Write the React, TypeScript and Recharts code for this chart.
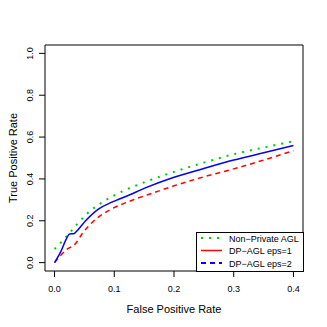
import React from 'react';
import { LineChart, Line, XAxis, YAxis, ReferenceArea } from 'recharts';

// ROC curves
const nonPrivateFpr = [0, 0.016, 0.024, 0.039, 0.054, 0.082, 0.113, 0.143, 0.196, 0.25, 0.3, 0.35, 0.4];
const nonPrivateTpr = [0.065, 0.113, 0.138, 0.188, 0.233, 0.292, 0.34, 0.376, 0.43, 0.478, 0.518, 0.55, 0.58];

const eps2Fpr = [0, 0.01, 0.02, 0.025, 0.032, 0.04, 0.052, 0.074, 0.096, 0.124, 0.152, 0.2, 0.25, 0.3, 0.35, 0.4];
const eps2Tpr = [0, 0.05, 0.115, 0.137, 0.138, 0.16, 0.2, 0.257, 0.289, 0.322, 0.357, 0.408, 0.45, 0.49, 0.525, 0.56];

const eps1Fpr = [0, 0.02, 0.035, 0.046, 0.066, 0.096, 0.129, 0.168, 0.2, 0.25, 0.3, 0.35, 0.4];
const eps1Tpr = [0, 0.062, 0.09, 0.137, 0.2, 0.257, 0.297, 0.336, 0.367, 0.41, 0.448, 0.49, 0.535];

const xTicks = [0, 0.1, 0.2, 0.3, 0.4];
const yTicks = [0, 0.2, 0.4, 0.6, 0.8, 1.0];

const legendItems = [
  { label: 'Non\u2212Private AGL', color: '#00CD00', dash: '2 6', width: 2 },
  { label: 'DP\u2212AGL eps=1', color: '#FF0000', dash: undefined, width: 1.5 },
  { label: 'DP\u2212AGL eps=2', color: '#0000FF', dash: '5 4', width: 2 },
];

const zip = (xs: number[], ys: number[]) => xs.map((x, i) => ({ x, y: ys[i] }));

const FONT = 'Liberation Sans, Arial, sans-serif';

const XTick = (props: any) => (
  <text x={props.x} y={292} textAnchor="middle" fontSize={9} fontFamily={FONT} fill="#000">
    {props.payload.value.toFixed(1)}
  </text>
);

const YTick = (props: any) => (
  <text
    x={33.5}
    y={props.y}
    transform={`rotate(-90, 33.5, ${props.y})`}
    textAnchor="middle"
    fontSize={9}
    fontFamily={FONT}
    fill="#000"
  >
    {props.payload.value.toFixed(1)}
  </text>
);

const LegendBox = () => (
  <svg width={108} height={40} style={{ position: 'absolute', left: 196, top: 232 }}>
    <rect x={0.5} y={0.5} width={107} height={39} fill="#fff" stroke="#000" />
    {legendItems.map((item, i) => (
      <g key={item.label}>
        <line
          x1={5}
          x2={26}
          y1={6 + i * 12.5}
          y2={6 + i * 12.5}
          stroke={item.color}
          strokeWidth={item.width}
          strokeDasharray={item.dash}
        />
        <text x={33} y={9.5 + i * 12.5} fontSize={9} fontFamily={FONT} fill="#000">
          {item.label}
        </text>
      </g>
    ))}
  </svg>
);

export default function App() {
  return (
    <div style={{ position: 'absolute', left: 0, top: 0, width: 327, height: 327, background: '#fff' }}>
      <LineChart width={327} height={327} margin={{ top: 45, right: 24, bottom: 0, left: 0 }}>
        <XAxis
          type="number"
          dataKey="x"
          domain={[-0.016, 0.416]}
          ticks={xTicks}
          tick={<XTick />}
          tickSize={6}
          tickLine={{ stroke: '#000' }}
          axisLine={false}
          height={56}
          allowDataOverflow
          label={{ value: 'False Positive Rate', position: 'insideBottom', offset: 14, fontSize: 11, fontFamily: FONT, fill: '#000' }}
        />
        <YAxis
          type="number"
          dataKey="y"
          domain={[-0.04, 1.04]}
          ticks={yTicks}
          tick={<YTick />}
          tickSize={6}
          tickLine={{ stroke: '#000' }}
          axisLine={false}
          width={45}
          allowDataOverflow
          label={{ value: 'True Positive Rate', angle: -90, position: 'insideLeft', offset: 13, fontSize: 11, fontFamily: FONT, fill: '#000', style: { textAnchor: 'middle' } }}
        />
        <ReferenceArea x1={-0.016} x2={0.416} y1={-0.04} y2={1.04} fill="none" stroke="#000" strokeWidth={1} fillOpacity={0} ifOverflow="visible" />
        <Line
          data={zip(nonPrivateFpr, nonPrivateTpr)}
          dataKey="y"
          type="monotone"
          stroke="#00CD00"
          strokeWidth={2}
          strokeDasharray="2 6"
          dot={false}
          isAnimationActive={false}
        />
        <Line
          data={zip(eps1Fpr, eps1Tpr)}
          dataKey="y"
          type="monotone"
          stroke="#FF0000"
          strokeWidth={1.5}
          strokeDasharray="5 4"
          dot={false}
          isAnimationActive={false}
        />
        <Line
          data={zip(eps2Fpr, eps2Tpr)}
          dataKey="y"
          type="monotone"
          stroke="#0000FF"
          strokeWidth={1.5}
          dot={false}
          isAnimationActive={false}
        />
      </LineChart>
      <LegendBox />
    </div>
  );
}
